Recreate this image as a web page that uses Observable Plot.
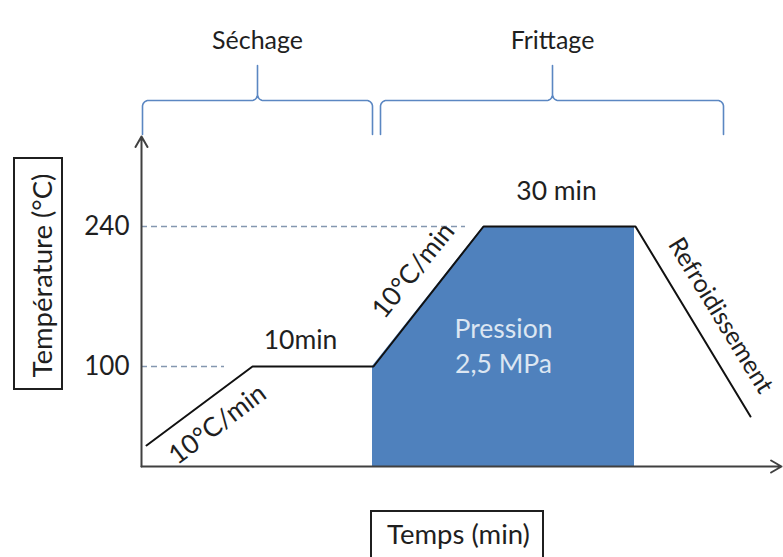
<!DOCTYPE html>
<html>
<head>
<meta charset="utf-8">
<script src="https://cdn.jsdelivr.net/npm/d3@7"></script>
<script src="https://cdn.jsdelivr.net/npm/@observablehq/plot@0.6"></script>
<style>
  html, body { margin: 0; padding: 0; background: #fff; }
  svg { display: block; }
</style>
</head>
<body>
<div id="chart"></div>
<script>
// ---- Data (schematic time units, temperature in °C) ----
const profileTime = [0.5, 11.1, 23.2, 34.2, 49.4, 60.9];
const profileTemp = [21, 100, 100, 240, 240, 50];

const pressureTime = [23.1, 34.2, 49.3];
const pressureTemp = [100, 240, 240];

const refTemps = [240, 100];
const refEnds = [32.4, 8.3];

const yTicks = [100, 240];

const phaseLabels = ["Séchage", "Frittage"];
const phaseStart = [0.1, 23.9];
const phaseEnd = [23.1, 58.2];
const phaseMid = [11.6, 41.1];

const noteText = ["10°C/min", "10min", "10°C/min", "30 min", "Refroidissement"];
const noteTime = [7.6, 15.9, 27.2, 41.5, 57.9];
const noteTemp = [42, 126, 196, 275, 151];
const noteAngle = [-37, 0, -51, 0, 58.5];

const pressureLabel = "Pression\n2,5 MPa";
const xTitle = "Temps (min)";
const yTitle = "Température (°C)";

// ---- Tables built from the arrays ----
const profile = profileTime.map((t, i) => ({t, T: profileTemp[i]}));
const pressure = pressureTime.map((t, i) => ({t, T: pressureTemp[i]}));
const refs = refTemps.map((T, i) => ({T, end: refEnds[i]}));
const notes = noteText.map((text, i) => ({text, t: noteTime[i], T: noteTemp[i], angle: noteAngle[i], size: text === "Refroidissement" ? 25 : 26.5}));
const phases = phaseLabels.map((label, i) => ({label, x0: phaseStart[i], x1: phaseEnd[i], xm: phaseMid[i]}));

// curly brace geometry (in data units)
function bracePoints(p) {
  const yBar = 366, yArm = 332, yTip = 401, rx = 0.6, ry = 6, n = 10;
  const pts = [];
  const push = (t, T) => pts.push({t, T, id: p.label});
  push(p.x0, yArm);
  for (let k = 0; k <= n; k++) { const a = k / n * Math.PI / 2; push(p.x0 + rx - rx * Math.cos(a), yBar - ry + ry * Math.sin(a)); }
  for (let k = 0; k <= n; k++) { const a = k / n * Math.PI / 2; push(p.xm - rx + rx * Math.sin(a), yBar + ry - ry * Math.cos(a)); }
  push(p.xm, yTip);
  for (let k = 0; k <= n; k++) { const a = k / n * Math.PI / 2; push(p.xm + rx - rx * Math.cos(a), yBar + ry - ry * Math.sin(a)); }
  for (let k = 0; k <= n; k++) { const a = k / n * Math.PI / 2; push(p.x1 - rx + rx * Math.sin(a), yBar - ry + ry * Math.cos(a)); }
  push(p.x1, yArm);
  return pts;
}
const braces = phases.flatMap(bracePoints);

const FONT = "Lato, 'Noto Sans', sans-serif";
const INK = "#1f1f1f";
const AXIS = "#404040";
const BLUE = "#4f81bd";

const plot = Plot.plot({
  width: 783,
  height: 557,
  marginLeft: 141,
  marginRight: 2,
  marginTop: 136,
  marginBottom: 91,
  x: {domain: [0, 64], axis: null},
  y: {domain: [0, 330], axis: null},
  style: {fontFamily: FONT, background: "#fff", color: INK, overflow: "visible"},
  marks: [
    // pressure zone
    Plot.areaY(pressure, {x: "t", y: "T", fill: BLUE}),
    // dashed reference lines
    Plot.ruleY(refs, {y: "T", x1: 0, x2: "end", stroke: "#8497b0", strokeWidth: 1.4, strokeDasharray: "6,4"}),
    // temperature profile
    Plot.line(profile, {x: "t", y: "T", stroke: "#111", strokeWidth: 2, strokeLinejoin: "miter"}),
    // axes with arrow heads
    Plot.arrow([{x1: 0, y1: 0, x2: 64, y2: 0}], {x1: "x1", y1: "y1", x2: "x2", y2: "y2", stroke: AXIS, strokeWidth: 2, headLength: 9}),
    Plot.arrow([{x1: 0, y1: 0, x2: 0, y2: 330}], {x1: "x1", y1: "y1", x2: "x2", y2: "y2", stroke: AXIS, strokeWidth: 2, headLength: 9}),
    // y tick labels
    Plot.text(yTicks, {x: 0, y: d => d, text: d => String(d), textAnchor: "end", dx: -12, fontSize: 26, fontFamily: FONT, fill: INK}),
    // annotations
    Plot.text(notes, {x: "t", y: "T", text: "text", rotate: "angle", fontSize: d => d.size, fontFamily: FONT, fill: INK}),
    Plot.text([pressureLabel], {x: 36.2, y: 122, text: d => d, fontSize: 26.5, lineHeight: 1.3, fontFamily: FONT, fill: "#dce6f2"}),
    // phase braces and labels
    Plot.line(braces, {x: "t", y: "T", z: "id", stroke: "#5b87c2", strokeWidth: 1.6}),
    Plot.text(phases, {x: "xm", y: 426, text: "label", fontSize: 25, fontFamily: FONT, fill: INK}),
    // axis title boxes
    Plot.rect([yTitle], {x1: -12.7, x2: -7.9, y1: 77, y2: 308, fill: "none", stroke: INK, strokeWidth: 2}),
    Plot.text([yTitle], {x: -9.85, y: 191, text: d => d, rotate: -90, fontSize: 27.5, fontFamily: FONT, fill: INK}),
    Plot.rect([xTitle], {x1: 23, x2: 40.2, y1: -95, y2: -45, fill: "none", stroke: INK, strokeWidth: 2}),
    Plot.text([xTitle], {x: 31.7, y: -69, text: d => d, fontSize: 27.5, fontFamily: FONT, fill: INK})
  ]
});
document.getElementById("chart").appendChild(plot);
</script>
</body>
</html>
